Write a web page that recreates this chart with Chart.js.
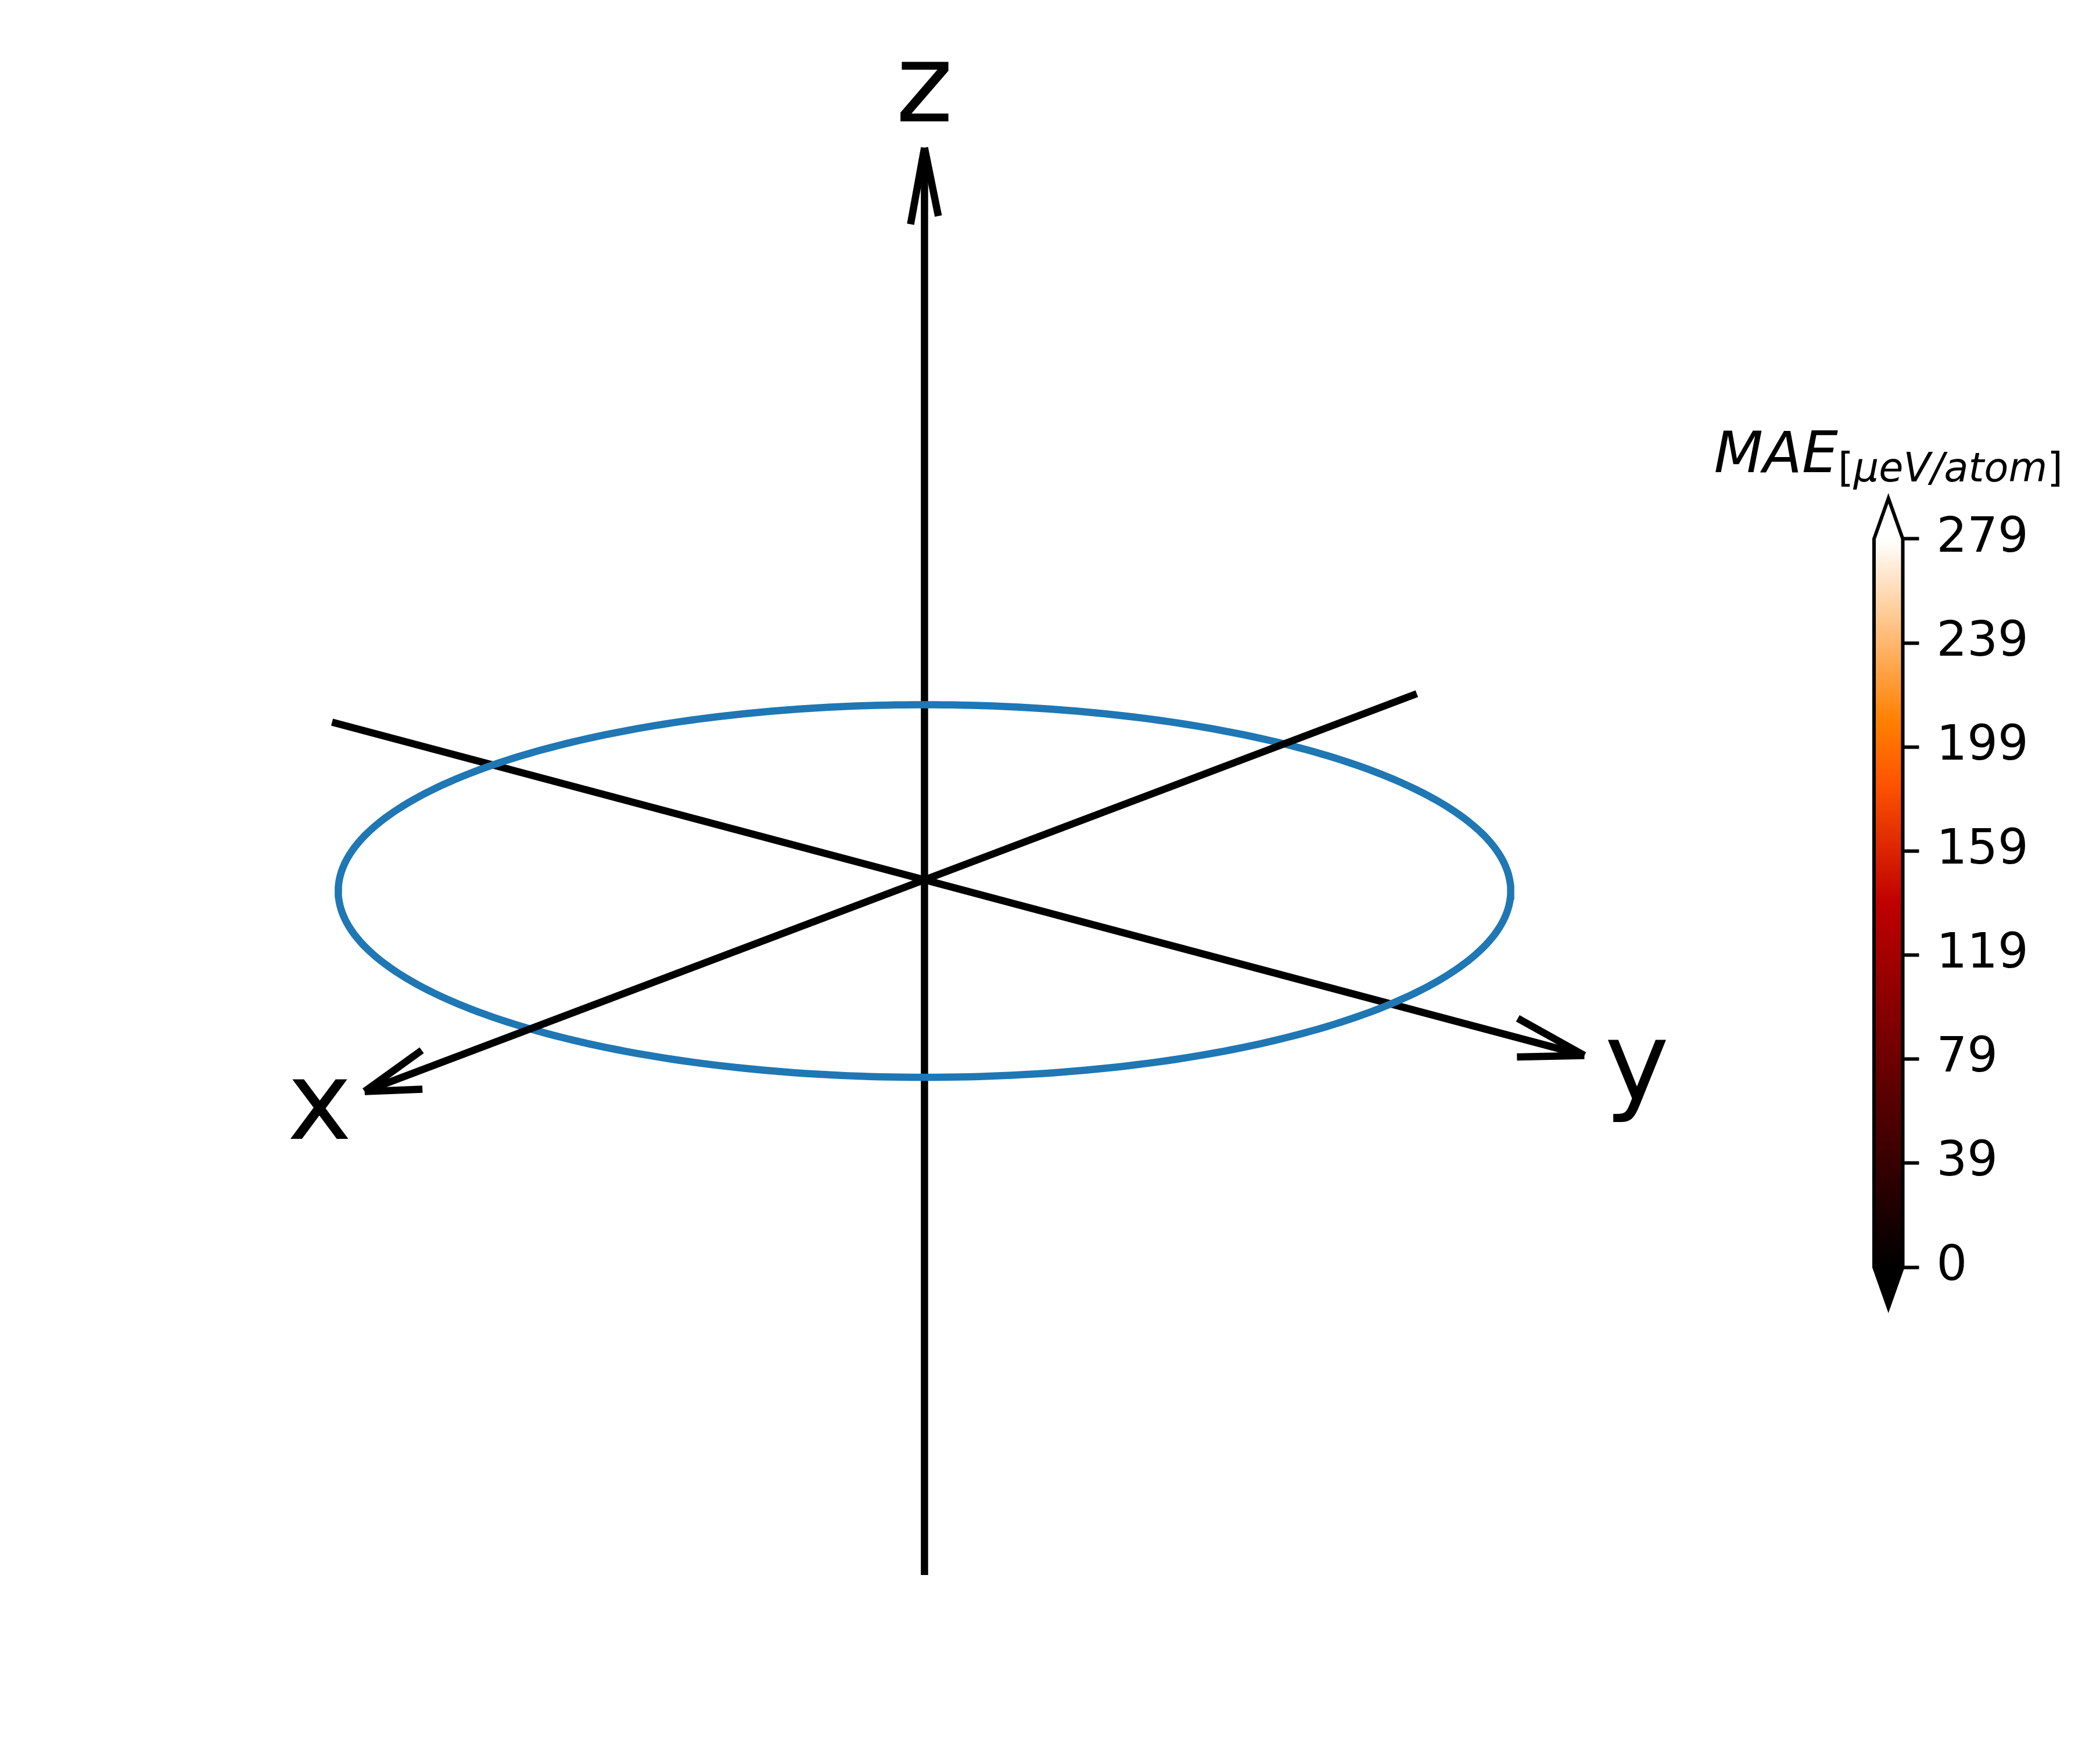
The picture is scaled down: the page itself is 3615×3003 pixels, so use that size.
<!DOCTYPE html>
<html>
<head>
<meta charset="utf-8">
<script src="https://cdn.jsdelivr.net/npm/chart.js@4.4.1/dist/chart.umd.min.js"></script>
<style>
  html, body { margin: 0; padding: 0; background: #ffffff; }
  #wrap { position: relative; width: 3615px; height: 3003px; background: #ffffff; overflow: hidden; }
  #scene { position: absolute; left: 0; top: 0; }
  #cbar { position: absolute; left: 2900px; top: 700px; }
</style>
</head>
<body>
<div id="wrap">
  <canvas id="scene" width="3615" height="3003"></canvas>
  <canvas id="cbar" width="715" height="1800"></canvas>
</div>
<script>
// ---------------- data ----------------
const axisNames = ['x', 'y', 'z'];
const axisNegEnds = [[-1, 0, 0], [0, -1, 0], [0, 0, -1]];
const axisPosEnds = [[1, 0, 0], [0, 1, 0], [0, 0, 1]];
const arrowPerp = [[0, 0, 1], [0, 0, 1], [1, 0, 0]];
const arrowHeadRatio = 0.1;
const arrowHeadAngleDeg = 15;
const labelPos = 1.075;
const ringRadius = 0.718;
const ringZ = 0;
const ringSamples = 360;

const cbMin = 0;
const cbMax = 279.5;
const cbTickValues = [0, 39.93, 79.86, 119.79, 159.71, 199.64, 239.57, 279.5];
const cbTickLabels = ['0', '39', '79', '119', '159', '199', '239', '279'];
const cmapStops = [0, 0.5, 0.6667, 0.75, 1];
const cmapColors = ['#000000', '#bf0000', '#ff5500', '#ff8000', '#ffffff'];
const cbTitleMain = 'MAE';
const cbTitleSub = ['[', 'μeV/atom', ']'];

// ---------------- view ----------------
const VIEW_ELEV = 18.5, VIEW_AZIM = 40, EYE_DIST = 11.32, Z_ASPECT = 0.923;
const VIEW_X_RANGE = [-1.1343, 1.4423];
const VIEW_Y_RANGE = [-1.0606, 1.0798];
const CB_EXTEND_FRAC = 0.0558;
const rad = Math.PI / 180;

function project(p) {
  const e = VIEW_ELEV * rad, a = VIEW_AZIM * rad;
  const x = p[0], y = p[1], z = p[2] * Z_ASPECT;
  const right = -Math.sin(a) * x + Math.cos(a) * y;
  const up = -Math.sin(e) * Math.cos(a) * x - Math.sin(e) * Math.sin(a) * y + Math.cos(e) * z;
  const depth = Math.cos(e) * Math.cos(a) * x + Math.cos(e) * Math.sin(a) * y + Math.sin(e) * z;
  const f = EYE_DIST / (EYE_DIST - depth);
  return { x: right * f, y: up * f };
}
function wingEnd(i, sign) {
  const d = axisPosEnds[i], w = arrowPerp[i];
  const c = Math.cos(arrowHeadAngleDeg * rad), s = Math.sin(arrowHeadAngleDeg * rad);
  return d.map((v, k) => v - arrowHeadRatio * (c * d[k] + sign * s * w[k]));
}

const LINE_W = 12.5;
const drawOrder = [0, 2, 3]; // x in front, ring 1, y, z behind
function lineSet(points, color, order) {
  return { data: points, showLine: true, borderColor: color, borderWidth: LINE_W,
           pointRadius: 0, pointHoverRadius: 0, fill: false, tension: 0, clip: false,
           borderCapStyle: 'butt', order: order };
}
const sceneSets = [];
axisNames.forEach((n, i) => {
  const ord = drawOrder[i];
  sceneSets.push(lineSet([project(axisNegEnds[i]), project(axisPosEnds[i])], '#000000', ord));
  sceneSets.push(lineSet([project(axisPosEnds[i]), project(wingEnd(i, 1))], '#000000', ord));
  sceneSets.push(lineSet([project(axisPosEnds[i]), project(wingEnd(i, -1))], '#000000', ord));
});
const ringPts = [];
for (let k = 0; k <= ringSamples; k++) {
  const t = 2 * Math.PI * k / ringSamples;
  ringPts.push(project([ringRadius * Math.cos(t), ringRadius * Math.sin(t), ringZ]));
}
sceneSets.push(lineSet(ringPts, '#1f77b4', 1));

const LABEL_PX = 188;
const axisLabelPlugin = {
  id: 'axisLabels',
  afterDatasetsDraw(chart) {
    const { ctx, scales } = chart;
    ctx.save();
    ctx.fillStyle = '#000000';
    ctx.font = LABEL_PX + 'px "DejaVu Sans"';
    ctx.textAlign = 'center';
    ctx.textBaseline = 'alphabetic';
    axisNames.forEach((name, i) => {
      const q = project(axisPosEnds[i].map(v => v * labelPos));
      const px = scales.x.getPixelForValue(q.x);
      const py = scales.y.getPixelForValue(q.y);
      ctx.fillText(name, px, py + LABEL_PX * 0.276);
    });
    ctx.restore();
  }
};

new Chart(document.getElementById('scene'), {
  type: 'scatter',
  data: { datasets: sceneSets },
  options: {
    responsive: false, animation: false, devicePixelRatio: 1, events: [],
    layout: { padding: 0 },
    plugins: { legend: { display: false }, tooltip: { enabled: false } },
    scales: {
      x: { type: 'linear', min: VIEW_X_RANGE[0], max: VIEW_X_RANGE[1], display: false },
      y: { type: 'linear', min: VIEW_Y_RANGE[0], max: VIEW_Y_RANGE[1], display: false }
    }
  },
  plugins: [axisLabelPlugin]
});

// ---------------- colorbar ----------------
const cbExt = CB_EXTEND_FRAC * (cbMax - cbMin);
const cbBody = [{x: 0, y: cbMin}, {x: 0, y: cbMax}, {x: 1, y: cbMax}, {x: 1, y: cbMin}, {x: 0, y: cbMin}];
const cbTop = [{x: 0, y: cbMax}, {x: 0.5, y: cbMax + cbExt}, {x: 1, y: cbMax}, {x: 0, y: cbMax}];
const cbBot = [{x: 0, y: cbMin}, {x: 0.5, y: cbMin - cbExt}, {x: 1, y: cbMin}, {x: 0, y: cbMin}];
const cbOutline = [{x: 0, y: cbMin}, {x: 0, y: cbMax}, {x: 0.5, y: cbMax + cbExt}, {x: 1, y: cbMax},
                   {x: 1, y: cbMin}, {x: 0.5, y: cbMin - cbExt}, {x: 0, y: cbMin}, {x: 0, y: cbMax}];

function cmapGradient(context) {
  const chart = context.chart;
  const sy = chart.scales && chart.scales.y;
  if (!chart.chartArea || !sy) return cmapColors[1];
  const g = chart.ctx.createLinearGradient(0, sy.getPixelForValue(cbMin), 0, sy.getPixelForValue(cbMax));
  cmapStops.forEach((s, i) => g.addColorStop(s, cmapColors[i]));
  return g;
}
function fillSet(points, bg, order) {
  return { data: points, showLine: true, borderColor: 'rgba(0,0,0,0)', borderWidth: 0,
           pointRadius: 0, pointHoverRadius: 0, fill: 'shape', backgroundColor: bg,
           tension: 0, clip: false, order: order };
}

const TITLE_PX = 98, SUB_PX = 68.6;
const cbTitlePlugin = {
  id: 'cbTitle',
  afterDraw(chart) {
    const { ctx, chartArea } = chart;
    ctx.save();
    ctx.fillStyle = '#000000';
    ctx.textAlign = 'left';
    ctx.textBaseline = 'alphabetic';
    const fMain = 'italic ' + TITLE_PX + 'px "DejaVu Sans"';
    const fSubUp = SUB_PX + 'px "DejaVu Sans"';
    const fSubIt = 'italic ' + SUB_PX + 'px "DejaVu Sans"';
    ctx.font = fMain; const w0 = ctx.measureText(cbTitleMain).width;
    ctx.font = fSubUp; const w1 = ctx.measureText(cbTitleSub[0]).width;
    ctx.font = fSubIt; const w2 = ctx.measureText(cbTitleSub[1]).width;
    ctx.font = fSubUp; const w3 = ctx.measureText(cbTitleSub[2]).width;
    const total = w0 + w1 + w2 + w3;
    const cx = (chartArea.left + chartArea.right) / 2;
    let x = cx - total / 2;
    const yMain = chartArea.top - 45;
    const ySub = chartArea.top - 29;
    ctx.font = fMain; ctx.fillText(cbTitleMain, x, yMain); x += w0;
    ctx.font = fSubUp; ctx.fillText(cbTitleSub[0], x, ySub); x += w1;
    ctx.font = fSubIt; ctx.fillText(cbTitleSub[1], x, ySub); x += w2;
    ctx.font = fSubUp; ctx.fillText(cbTitleSub[2], x, ySub);
    ctx.restore();
  }
};

new Chart(document.getElementById('cbar'), {
  type: 'scatter',
  data: {
    datasets: [
      { data: cbOutline, showLine: true, borderColor: '#000000', borderWidth: 6, pointRadius: 0,
        pointHoverRadius: 0, fill: false, tension: 0, clip: false, borderJoinStyle: 'miter', order: 0 },
      fillSet(cbTop, cmapColors[cmapColors.length - 1], 1),
      fillSet(cbBot, cmapColors[0], 1),
      fillSet(cbBody, cmapGradient, 2)
    ]
  },
  options: {
    responsive: false, animation: false, devicePixelRatio: 1, events: [],
    layout: { padding: { left: 326, right: 39.5, top: 158, bottom: 248 } },
    plugins: { legend: { display: false }, tooltip: { enabled: false } },
    scales: {
      x: { type: 'linear', min: 0, max: 1, display: false },
      y: {
        type: 'linear', position: 'right', min: cbMin - cbExt, max: cbMax + cbExt,
        afterBuildTicks: (s) => { s.ticks = cbTickValues.map(v => ({ value: v })); },
        afterFit: (s) => { s.width = 300; },
        ticks: {
          autoSkip: false,
          callback: (v) => { const i = cbTickValues.indexOf(v); return i >= 0 ? cbTickLabels[i] : ''; },
          font: { family: 'DejaVu Sans', size: 83 }, color: '#000000', padding: 30
        },
        grid: { display: true, drawOnChartArea: false, drawTicks: true, tickLength: 28, tickWidth: 6, tickColor: '#000000' },
        border: { display: false }
      }
    }
  },
  plugins: [cbTitlePlugin]
});
</script>
</body>
</html>
